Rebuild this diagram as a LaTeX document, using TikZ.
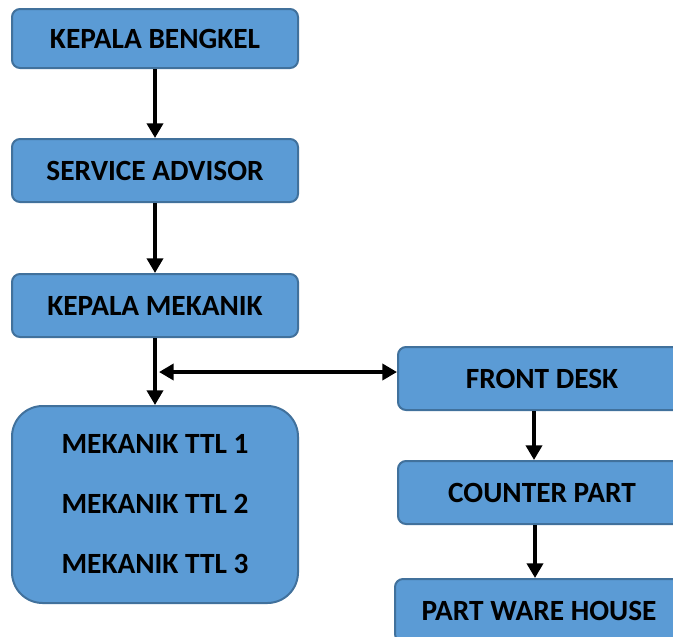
\documentclass[tikz,border=0pt]{standalone}
\usepackage{fontspec}
\setmainfont{Carlito}
\usetikzlibrary{arrows.meta}
\definecolor{boxfill}{HTML}{5B9BD5}
\definecolor{boxline}{HTML}{41719C}
\tikzset{
  box/.style={draw=boxline, fill=boxfill, line width=1.5pt, rounded corners=6pt,
    inner sep=0pt, font=\bfseries\fontsize{22}{26}\selectfont, text=black},
  conn/.style={line width=2.8pt, -{Triangle[length=11pt,width=12pt]}},
  dconn/.style={line width=2.8pt, {Triangle[length=11pt,width=12pt]}-{Triangle[length=11pt,width=12pt]}}
}
\begin{document}
\begin{tikzpicture}[x=0.75pt,y=-0.75pt]
\useasboundingbox (0,0) rectangle (673,636);
\clip (0,0) rectangle (673,636);
\node[box, minimum width=286*0.75pt, minimum height=59*0.75pt] (kb) at (155,38.5) {KEPALA BENGKEL};
\node[box, minimum width=286*0.75pt, minimum height=63*0.75pt] (sa) at (155,170.5) {SERVICE ADVISOR};
\node[box, minimum width=286*0.75pt, minimum height=63*0.75pt] (km) at (155,305.5) {KEPALA MEKANIK};
\node[box, rounded corners=23pt, minimum width=286*0.75pt, minimum height=197*0.75pt, align=center] (mt) at (155,504.5)
  {MEKANIK TTL 1\\[19pt]MEKANIK TTL 2\\[19pt]MEKANIK TTL 3};
\node[box, minimum width=288*0.75pt, minimum height=63*0.75pt, anchor=west] (fd) at (397,378.5) {FRONT DESK};
\node[box, minimum width=288*0.75pt, minimum height=63*0.75pt, anchor=west] (cp) at (397,492.5) {COUNTER PART};
\node[box, minimum width=288*0.75pt, minimum height=63*0.75pt, anchor=north west] (pw) at (394,578) {PART WARE HOUSE};
\coordinate (j) at (155,372);
\draw[conn] (kb.south) -- (sa.north);
\draw[conn] (sa.south) -- (km.north);
\draw[conn] (km.south) -- (mt.north);
\draw[dconn, shorten <=3pt] (j) -- (fd.west |- j);
\draw[conn] (fd.south -| 534,0) -- (cp.north -| 534,0);
\draw[conn] (cp.south -| 535,0) -- (pw.north -| 535,0);
\end{tikzpicture}
\end{document}
